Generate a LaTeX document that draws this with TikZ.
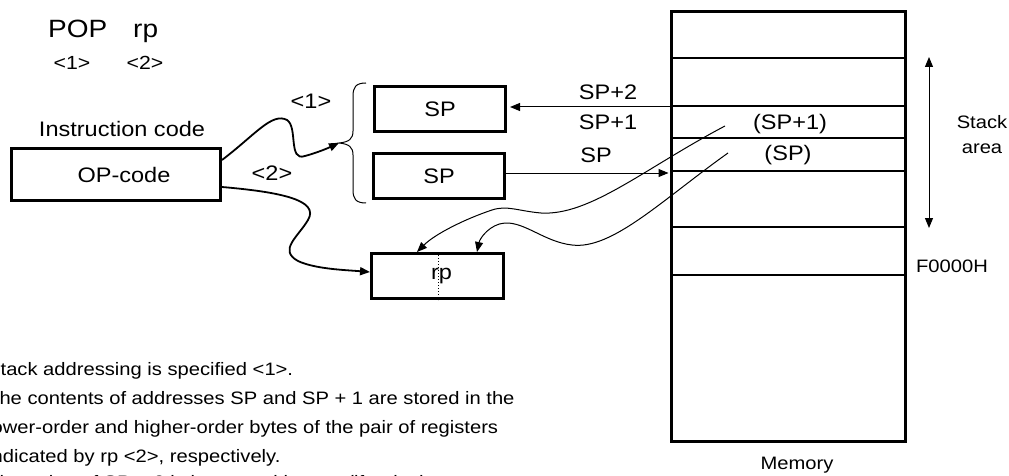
\documentclass[tikz,border=0pt]{standalone}
\usepackage{fontspec}
\setmainfont{Liberation Sans}[FakeStretch=1.12]
\usetikzlibrary{arrows.meta}
\begin{document}
\begin{tikzpicture}[x=1pt,y=-1pt,
  box/.style={draw, line width=3pt, minimum width=131pt, minimum height=45pt, inner sep=0pt, font=\fontsize{21}{25}\selectfont},
  lbl/.style={inner sep=0pt, font=\fontsize{21}{25}\selectfont},
  sml/.style={inner sep=0pt, font=\fontsize{18}{25}\selectfont},
  txt/.style={inner sep=0pt, anchor=base west, font=\fontsize{18}{22}\selectfont},
  tip/.style={-{Triangle[length=10pt,width=8pt]}},
  conn/.style={line width=1pt, tip},
  wave/.style={line width=1.8pt, tip},
  thinrow/.style={line width=1.2pt},
  midrow/.style={line width=1.8pt},
  thickrow/.style={line width=2.6pt}
]
\useasboundingbox (0,0) rectangle (1009,476);
\clip (0,0) rectangle (1009,476);

% title
\node[inner sep=0pt, anchor=base west, font=\fontsize{25}{30}\selectfont] (pop) at (48,38) {POP};
\node[inner sep=0pt, anchor=base west, font=\fontsize{25}{30}\selectfont] (rpt) at (133,38) {rp};
\node[inner sep=0pt, font=\fontsize{19}{22}\selectfont] (n1) at (72,63) {<1>};
\node[inner sep=0pt, font=\fontsize{19}{22}\selectfont] (n2) at (145,63) {<2>};

% instruction code
\node[lbl] (ic) at (122,129) {Instruction code};
\node[box, minimum width=209pt, minimum height=52pt] (oc) at (116,174.5) {\hspace*{16pt}OP-code};

% registers
\node[box] (sp1) at (440,109) {SP};
\node[box] (sp2) at (439,176) {SP};
\node[box, minimum width=132pt] (rp) at (437.5,276) {\hspace*{8pt}rp};
\draw[dotted, line width=1pt] ([xshift=0.5pt]rp.north) -- ([xshift=0.5pt]rp.south);

% brace
\coordinate (brtip) at (339,143);
\draw[line width=1pt] (366,83) .. controls (356,83) and (353,87) .. (353,96) -- (353,131)
  .. controls (353,139) and (349,142) .. (brtip)
  .. controls (349,144) and (353,147) .. (353,155) -- (353,190)
  .. controls (353,199) and (356,203) .. (366,203);

\node[lbl] (l1) at (311,101) {<1>};
\node[lbl] (l2) at (272,173) {<2>};

% curves from OP-code
\draw[wave] ([yshift=14.5pt]oc.east) .. controls (255,135) and (272,112) .. (287,120)
  .. controls (298,127) and (288,162) .. (305,156)
  .. controls (316,153) and (326,149) .. (brtip);
\draw[wave] ([yshift=-12.5pt]oc.east) .. controls (280,192) and (320,200) .. (308,220)
  .. controls (298,237) and (278,250) .. (298,261)
  .. controls (315,269) and (345,270) .. ([yshift=4pt]rp.west);

% memory
\node[draw, line width=3pt, minimum width=234pt, minimum height=430pt, inner sep=0pt] (mem) at (788.5,226.5) {};
\draw[thinrow] (mem.west |- 0,58) -- (mem.east |- 0,58);
\draw[midrow] (mem.west |- 0,106) -- (mem.east |- 0,106);
\draw[thickrow] (mem.west |- 0,138) -- (mem.east |- 0,138);
\draw[thinrow] (mem.west |- 0,171) -- (mem.east |- 0,171);
\draw[midrow] (mem.west |- 0,227) -- (mem.east |- 0,227);
\draw[thinrow] (mem.west |- 0,275) -- (mem.east |- 0,275);

\node[lbl] (c1) at (790,124) {(SP+1)};
\node[lbl] (c0) at (788,155) {(SP)};
\node[lbl] (a2) at (608,92) {SP+2};
\node[lbl] (a1) at (608,122) {SP+1};
\node[lbl] (a0) at (596,155) {SP};

\draw[conn, shorten >=3pt] (mem.west |- 0,107) -- ([yshift=2pt]sp1.east);
\draw[conn, shorten >=1.5pt] ([yshift=3pt]sp2.east) -- (mem.west |- 0,173);

% memory to rp
\coordinate (ma) at (725,126);
\coordinate (mb) at (728,153);
\draw[conn] (ma) .. controls (645,168) and (590,216) .. (541,213)
  .. controls (518,211) and (507,205) .. (492,210)
  .. controls (465,219) and (435,234) .. ([xshift=-20.5pt]rp.north);
\draw[conn] (mb) .. controls (662,200) and (612,250) .. (572,245)
  .. controls (545,242) and (525,222) .. (505,223)
  .. controls (490,224) and (480,238) .. ([xshift=39.5pt]rp.north);

% stack area
\coordinate (st) at (929,57);
\coordinate (sb) at (929,228);
\draw[line width=1pt, {Triangle[length=10pt,width=8pt]}-{Triangle[length=10pt,width=8pt]}] (st) -- (sb);
\node[sml, align=center] (sa) at (982,134.5) {Stack\\area};
\node[sml] (f0) at (952,266) {F0000H};
\node[sml] (mm) at (797,465) {Memory};

% explanation
\node[txt] (t1) at (-13,375) {Stack addressing is specified <1>.};
\node[txt] (t2) at (-13,404) {The contents of addresses SP and SP + 1 are stored in the};
\node[txt] (t3) at (-13,433) {lower-order and higher-order bytes of the pair of registers};
\node[txt] (t4) at (-13,462) {indicated by rp <2>, respectively.};
\node[txt] (t5) at (-13,488) {The value of SP + 2 is increased by two (if rp is the};
\end{tikzpicture}
\end{document}
